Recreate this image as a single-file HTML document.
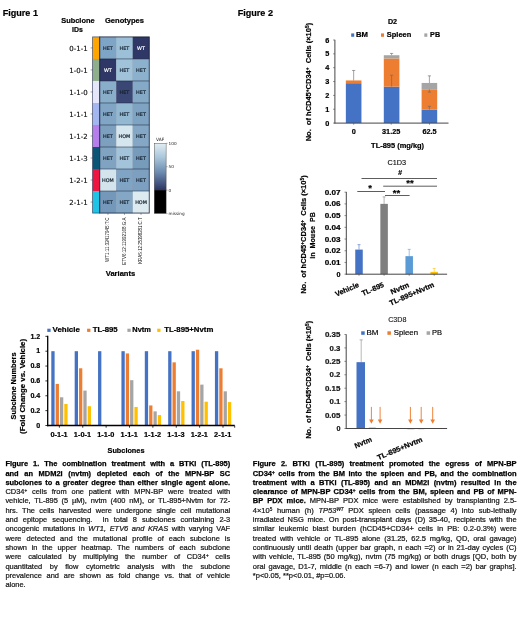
<!DOCTYPE html>
<html><head><meta charset="utf-8"><title>Figure</title>
<style>
html,body{margin:0;padding:0;background:#fff;}
body{width:520px;height:621px;position:relative;overflow:hidden;font-family:"Liberation Sans",sans-serif;color:#000;}
svg{position:absolute;left:0;top:0;}
svg text{font-family:"Liberation Sans",sans-serif;fill:#000;}
.b{font-weight:bold;stroke:#000;stroke-width:0.2px;}
.dv{font-family:"DejaVu Sans",sans-serif !important;}
.cap{position:absolute;text-align:justify;color:#111;-webkit-text-stroke:0.22px #222;}
.cap b{color:#000;-webkit-text-stroke:0.25px #000;}
.ln{text-align:justify;text-align-last:justify;white-space:nowrap;height:9.3px;}
.ln.last{text-align-last:left;}
#cap1{left:5.4px;top:459.25px;width:224.8px;font-size:7.45px;line-height:9.3px;}
#cap2{left:252.8px;top:459.25px;width:263.8px;font-size:7.5px;line-height:9.3px;}
sup{font-size:62%;line-height:0;vertical-align:baseline;position:relative;top:-0.4em;}
</style></head><body>
<svg width="520" height="621" viewBox="0 0 520 621">

<text font-size="9.0" class="b" textLength="35.3" lengthAdjust="spacingAndGlyphs" x="2.7" y="15.6" >Figure 1</text>
<text font-size="9.0" class="b" textLength="35.3" lengthAdjust="spacingAndGlyphs" x="237.7" y="15.5" >Figure 2</text>
<text font-size="7.7" class="b" text-anchor="middle" textLength="33.4" lengthAdjust="spacingAndGlyphs" x="77.9" y="22.6" >Subclone</text>
<text font-size="7.7" class="b" text-anchor="middle" textLength="10.8" lengthAdjust="spacingAndGlyphs" x="77.4" y="31.7" >IDs</text>
<text font-size="7.9" class="b" text-anchor="middle" textLength="39" lengthAdjust="spacingAndGlyphs" x="124.5" y="23.0" >Genotypes</text>
<rect x="92.6" y="36.90" width="7.10" height="22.12" fill="#FFA500"/>
<rect x="99.70" y="36.90" width="16.62" height="22.12" fill="#7FA5C6"/>
<text x="107.96" y="49.61" font-size="4.9" text-anchor="middle" class="dv" style="fill:#14202e;stroke:#14202e;stroke-width:0.18px">HET</text>
<rect x="116.22" y="36.90" width="16.62" height="22.12" fill="#9BC0D8"/>
<text x="124.48" y="49.61" font-size="4.9" text-anchor="middle" class="dv" style="fill:#14202e;stroke:#14202e;stroke-width:0.18px">HET</text>
<rect x="132.74" y="36.90" width="16.62" height="22.12" fill="#2E3766"/>
<text x="141.00" y="49.61" font-size="4.9" text-anchor="middle" class="dv" style="fill:#fff;stroke:#fff;stroke-width:0.18px">WT</text>
<text x="87.7" y="50.66" font-size="7.0" text-anchor="end" class="dv" style="fill:#111;stroke:#111;stroke-width:0.15px">0-1-1</text>
<line x1="90.6" x2="92.6" y1="47.91" y2="47.91" stroke="#444" stroke-width="0.5"/>
<rect x="92.6" y="58.92" width="7.10" height="22.12" fill="#8FAE8B"/>
<rect x="99.70" y="58.92" width="16.62" height="22.12" fill="#2E3766"/>
<text x="107.96" y="71.63" font-size="4.9" text-anchor="middle" class="dv" style="fill:#fff;stroke:#fff;stroke-width:0.18px">WT</text>
<rect x="116.22" y="58.92" width="16.62" height="22.12" fill="#A0C3DA"/>
<text x="124.48" y="71.63" font-size="4.9" text-anchor="middle" class="dv" style="fill:#14202e;stroke:#14202e;stroke-width:0.18px">HET</text>
<rect x="132.74" y="58.92" width="16.62" height="22.12" fill="#8BB1CD"/>
<text x="141.00" y="71.63" font-size="4.9" text-anchor="middle" class="dv" style="fill:#14202e;stroke:#14202e;stroke-width:0.18px">HET</text>
<text x="87.7" y="72.68" font-size="7.0" text-anchor="end" class="dv" style="fill:#111;stroke:#111;stroke-width:0.15px">1-0-1</text>
<line x1="90.6" x2="92.6" y1="69.93" y2="69.93" stroke="#444" stroke-width="0.5"/>
<rect x="92.6" y="80.94" width="7.10" height="22.12" fill="#E6E6FA"/>
<rect x="99.70" y="80.94" width="16.62" height="22.12" fill="#89AECA"/>
<text x="107.96" y="93.65" font-size="4.9" text-anchor="middle" class="dv" style="fill:#14202e;stroke:#14202e;stroke-width:0.18px">HET</text>
<rect x="116.22" y="80.94" width="16.62" height="22.12" fill="#3A4673"/>
<text x="124.48" y="93.65" font-size="4.9" text-anchor="middle" class="dv" style="fill:#14202e;stroke:#14202e;stroke-width:0.18px">HET</text>
<rect x="132.74" y="80.94" width="16.62" height="22.12" fill="#84AAC8"/>
<text x="141.00" y="93.65" font-size="4.9" text-anchor="middle" class="dv" style="fill:#14202e;stroke:#14202e;stroke-width:0.18px">HET</text>
<text x="87.7" y="94.70" font-size="7.0" text-anchor="end" class="dv" style="fill:#111;stroke:#111;stroke-width:0.15px">1-1-0</text>
<line x1="90.6" x2="92.6" y1="91.95" y2="91.95" stroke="#444" stroke-width="0.5"/>
<rect x="92.6" y="102.96" width="7.10" height="22.12" fill="#A3B6F0"/>
<rect x="99.70" y="102.96" width="16.62" height="22.12" fill="#81A5C4"/>
<text x="107.96" y="115.67" font-size="4.9" text-anchor="middle" class="dv" style="fill:#14202e;stroke:#14202e;stroke-width:0.18px">HET</text>
<rect x="116.22" y="102.96" width="16.62" height="22.12" fill="#92B8D2"/>
<text x="124.48" y="115.67" font-size="4.9" text-anchor="middle" class="dv" style="fill:#14202e;stroke:#14202e;stroke-width:0.18px">HET</text>
<rect x="132.74" y="102.96" width="16.62" height="22.12" fill="#7FA4C3"/>
<text x="141.00" y="115.67" font-size="4.9" text-anchor="middle" class="dv" style="fill:#14202e;stroke:#14202e;stroke-width:0.18px">HET</text>
<text x="87.7" y="116.72" font-size="7.0" text-anchor="end" class="dv" style="fill:#111;stroke:#111;stroke-width:0.15px">1-1-1</text>
<line x1="90.6" x2="92.6" y1="113.97" y2="113.97" stroke="#444" stroke-width="0.5"/>
<rect x="92.6" y="124.98" width="7.10" height="22.12" fill="#B57EEB"/>
<rect x="99.70" y="124.98" width="16.62" height="22.12" fill="#7DA0BE"/>
<text x="107.96" y="137.69" font-size="4.9" text-anchor="middle" class="dv" style="fill:#14202e;stroke:#14202e;stroke-width:0.18px">HET</text>
<rect x="116.22" y="124.98" width="16.62" height="22.12" fill="#D5E6EE"/>
<text x="124.48" y="137.69" font-size="4.9" text-anchor="middle" class="dv" style="fill:#14202e;stroke:#14202e;stroke-width:0.18px">HOM</text>
<rect x="132.74" y="124.98" width="16.62" height="22.12" fill="#84A7C5"/>
<text x="141.00" y="137.69" font-size="4.9" text-anchor="middle" class="dv" style="fill:#14202e;stroke:#14202e;stroke-width:0.18px">HET</text>
<text x="87.7" y="138.74" font-size="7.0" text-anchor="end" class="dv" style="fill:#111;stroke:#111;stroke-width:0.15px">1-1-2</text>
<line x1="90.6" x2="92.6" y1="135.99" y2="135.99" stroke="#444" stroke-width="0.5"/>
<rect x="92.6" y="147.00" width="7.10" height="22.12" fill="#0B5575"/>
<rect x="99.70" y="147.00" width="16.62" height="22.12" fill="#80A3C1"/>
<text x="107.96" y="159.71" font-size="4.9" text-anchor="middle" class="dv" style="fill:#14202e;stroke:#14202e;stroke-width:0.18px">HET</text>
<rect x="116.22" y="147.00" width="16.62" height="22.12" fill="#A2C3D9"/>
<text x="124.48" y="159.71" font-size="4.9" text-anchor="middle" class="dv" style="fill:#14202e;stroke:#14202e;stroke-width:0.18px">HET</text>
<rect x="132.74" y="147.00" width="16.62" height="22.12" fill="#779BBB"/>
<text x="141.00" y="159.71" font-size="4.9" text-anchor="middle" class="dv" style="fill:#14202e;stroke:#14202e;stroke-width:0.18px">HET</text>
<text x="87.7" y="160.76" font-size="7.0" text-anchor="end" class="dv" style="fill:#111;stroke:#111;stroke-width:0.15px">1-1-3</text>
<line x1="90.6" x2="92.6" y1="158.01" y2="158.01" stroke="#444" stroke-width="0.5"/>
<rect x="92.6" y="169.02" width="7.10" height="22.12" fill="#EE1540"/>
<rect x="99.70" y="169.02" width="16.62" height="22.12" fill="#D3E4EC"/>
<text x="107.96" y="181.73" font-size="4.9" text-anchor="middle" class="dv" style="fill:#14202e;stroke:#14202e;stroke-width:0.18px">HOM</text>
<rect x="116.22" y="169.02" width="16.62" height="22.12" fill="#80A4C3"/>
<text x="124.48" y="181.73" font-size="4.9" text-anchor="middle" class="dv" style="fill:#14202e;stroke:#14202e;stroke-width:0.18px">HET</text>
<rect x="132.74" y="169.02" width="16.62" height="22.12" fill="#7DA0C0"/>
<text x="141.00" y="181.73" font-size="4.9" text-anchor="middle" class="dv" style="fill:#14202e;stroke:#14202e;stroke-width:0.18px">HET</text>
<text x="87.7" y="182.78" font-size="7.0" text-anchor="end" class="dv" style="fill:#111;stroke:#111;stroke-width:0.15px">1-2-1</text>
<line x1="90.6" x2="92.6" y1="180.03" y2="180.03" stroke="#444" stroke-width="0.5"/>
<rect x="92.6" y="191.04" width="7.10" height="22.12" fill="#1EC3E6"/>
<rect x="99.70" y="191.04" width="16.62" height="22.12" fill="#7498B9"/>
<text x="107.96" y="203.75" font-size="4.9" text-anchor="middle" class="dv" style="fill:#14202e;stroke:#14202e;stroke-width:0.18px">HET</text>
<rect x="116.22" y="191.04" width="16.62" height="22.12" fill="#84A7C5"/>
<text x="124.48" y="203.75" font-size="4.9" text-anchor="middle" class="dv" style="fill:#14202e;stroke:#14202e;stroke-width:0.18px">HET</text>
<rect x="132.74" y="191.04" width="16.62" height="22.12" fill="#DDEAF0"/>
<text x="141.00" y="203.75" font-size="4.9" text-anchor="middle" class="dv" style="fill:#14202e;stroke:#14202e;stroke-width:0.18px">HOM</text>
<text x="87.7" y="204.80" font-size="7.0" text-anchor="end" class="dv" style="fill:#111;stroke:#111;stroke-width:0.15px">2-1-1</text>
<line x1="90.6" x2="92.6" y1="202.05" y2="202.05" stroke="#444" stroke-width="0.5"/>
<line x1="99.7" x2="149.26" y1="58.92" y2="58.92" stroke="#141c34" stroke-width="0.6" opacity="0.85"/>
<line x1="99.7" x2="149.26" y1="80.94" y2="80.94" stroke="#141c34" stroke-width="0.6" opacity="0.85"/>
<line x1="99.7" x2="149.26" y1="102.96" y2="102.96" stroke="#141c34" stroke-width="0.6" opacity="0.85"/>
<line x1="99.7" x2="149.26" y1="124.98" y2="124.98" stroke="#141c34" stroke-width="0.6" opacity="0.85"/>
<line x1="99.7" x2="149.26" y1="147.00" y2="147.00" stroke="#141c34" stroke-width="0.6" opacity="0.85"/>
<line x1="99.7" x2="149.26" y1="169.02" y2="169.02" stroke="#141c34" stroke-width="0.6" opacity="0.85"/>
<line x1="99.7" x2="149.26" y1="191.04" y2="191.04" stroke="#141c34" stroke-width="0.6" opacity="0.85"/>
<line x1="116.22" x2="116.22" y1="36.9" y2="213.06" stroke="#141c34" stroke-width="0.4" opacity="0.3"/>
<line x1="132.74" x2="132.74" y1="36.9" y2="213.06" stroke="#141c34" stroke-width="0.4" opacity="0.3"/>
<rect x="99.7" y="36.9" width="49.56" height="176.16" fill="none" stroke="#141c34" stroke-width="0.9" opacity="0.85"/>
<rect x="92.6" y="36.9" width="7.10" height="176.16" fill="none" stroke="#2a3350" stroke-width="0.8" opacity="0.75"/>
<line x1="107.96" x2="107.96" y1="213.06" y2="214.86" stroke="#444" stroke-width="0.5"/>
<text transform="translate(109.2,217.46) rotate(-90)" font-size="5.6" text-anchor="end" textLength="44.5" lengthAdjust="spacingAndGlyphs" style="fill:#111">WT1:11:32417945:T:C</text>
<line x1="124.48" x2="124.48" y1="213.06" y2="214.86" stroke="#444" stroke-width="0.5"/>
<text transform="translate(125.7,217.46) rotate(-90)" font-size="5.6" text-anchor="end" textLength="47.4" lengthAdjust="spacingAndGlyphs" style="fill:#111">ETV6:12:11992168:G:A</text>
<line x1="141.00" x2="141.00" y1="213.06" y2="214.86" stroke="#444" stroke-width="0.5"/>
<text transform="translate(142.1,217.46) rotate(-90)" font-size="5.6" text-anchor="end" textLength="46.4" lengthAdjust="spacingAndGlyphs" style="fill:#111">KRAS:12:25398281:C:T</text>
<text font-size="7.6" class="b" text-anchor="middle" textLength="29.5" lengthAdjust="spacingAndGlyphs" x="120.5" y="276.4" >Variants</text>
<defs><linearGradient id="cb" x1="0" y1="0" x2="0" y2="1">
<stop offset="0" stop-color="#E2EEF3"/><stop offset="0.3" stop-color="#A9C6DA"/><stop offset="0.6" stop-color="#6F8FB3"/><stop offset="1" stop-color="#2B3462"/></linearGradient></defs>
<rect x="154.3" y="143.3" width="11.8" height="47" fill="url(#cb)"/>
<rect x="154.3" y="190.1" width="11.8" height="23.3" fill="#000"/>
<rect x="154.3" y="143.3" width="11.8" height="70.1" fill="none" stroke="#333" stroke-width="0.4"/>
<text x="160.2" y="141.2" font-size="4.4" text-anchor="middle" class="dv" style="fill:#222">VAF</text>
<line x1="166.1" x2="167.6" y1="143.3" y2="143.3" stroke="#444" stroke-width="0.4"/>
<text x="168.6" y="144.8" font-size="4.2" class="dv" style="fill:#222">100</text>
<line x1="166.1" x2="167.6" y1="166.7" y2="166.7" stroke="#444" stroke-width="0.4"/>
<text x="168.6" y="168.2" font-size="4.2" class="dv" style="fill:#222">50</text>
<line x1="166.1" x2="167.6" y1="190.1" y2="190.1" stroke="#444" stroke-width="0.4"/>
<text x="168.6" y="191.6" font-size="4.2" class="dv" style="fill:#222">0</text>
<line x1="166.1" x2="167.6" y1="213.6" y2="213.6" stroke="#444" stroke-width="0.4"/>
<text x="168.6" y="215.1" font-size="4.2" class="dv" style="fill:#222">missing</text>
<rect x="51.30" y="351.20" width="3.3" height="74.30" fill="#4472C4"/>
<rect x="55.63" y="383.89" width="3.3" height="41.61" fill="#ED7D31"/>
<rect x="59.96" y="397.27" width="3.3" height="28.23" fill="#A5A5A5"/>
<rect x="64.29" y="403.95" width="3.3" height="21.55" fill="#FFC000"/>
<text font-size="7.2" class="b" text-anchor="middle" textLength="17.2" lengthAdjust="spacingAndGlyphs" x="59.09" y="437.4" >0-1-1</text>
<line x1="59.39" x2="59.39" y1="425.5" y2="427.7" stroke="#000" stroke-width="0.8"/>
<rect x="74.68" y="351.20" width="3.3" height="74.30" fill="#4472C4"/>
<rect x="79.01" y="368.29" width="3.3" height="57.21" fill="#ED7D31"/>
<rect x="83.34" y="390.58" width="3.3" height="34.92" fill="#A5A5A5"/>
<rect x="87.67" y="406.18" width="3.3" height="19.32" fill="#FFC000"/>
<text font-size="7.2" class="b" text-anchor="middle" textLength="17.2" lengthAdjust="spacingAndGlyphs" x="82.46" y="437.4" >1-0-1</text>
<line x1="82.76" x2="82.76" y1="425.5" y2="427.7" stroke="#000" stroke-width="0.8"/>
<rect x="98.05" y="351.20" width="3.3" height="74.30" fill="#4472C4"/>
<text font-size="7.2" class="b" text-anchor="middle" textLength="17.2" lengthAdjust="spacingAndGlyphs" x="105.84" y="437.4" >1-1-0</text>
<line x1="106.14" x2="106.14" y1="425.5" y2="427.7" stroke="#000" stroke-width="0.8"/>
<rect x="121.43" y="351.20" width="3.3" height="74.30" fill="#4472C4"/>
<rect x="125.76" y="353.43" width="3.3" height="72.07" fill="#ED7D31"/>
<rect x="130.09" y="380.18" width="3.3" height="45.32" fill="#A5A5A5"/>
<rect x="134.42" y="406.93" width="3.3" height="18.57" fill="#FFC000"/>
<text font-size="7.2" class="b" text-anchor="middle" textLength="17.2" lengthAdjust="spacingAndGlyphs" x="129.21" y="437.4" >1-1-1</text>
<line x1="129.51" x2="129.51" y1="425.5" y2="427.7" stroke="#000" stroke-width="0.8"/>
<rect x="144.80" y="351.20" width="3.3" height="74.30" fill="#4472C4"/>
<rect x="149.13" y="405.44" width="3.3" height="20.06" fill="#ED7D31"/>
<rect x="153.46" y="411.38" width="3.3" height="14.12" fill="#A5A5A5"/>
<rect x="157.79" y="415.10" width="3.3" height="10.40" fill="#FFC000"/>
<text font-size="7.2" class="b" text-anchor="middle" textLength="17.2" lengthAdjust="spacingAndGlyphs" x="152.59" y="437.4" >1-1-2</text>
<line x1="152.89" x2="152.89" y1="425.5" y2="427.7" stroke="#000" stroke-width="0.8"/>
<rect x="168.18" y="351.20" width="3.3" height="74.30" fill="#4472C4"/>
<rect x="172.51" y="362.35" width="3.3" height="63.15" fill="#ED7D31"/>
<rect x="176.84" y="391.32" width="3.3" height="34.18" fill="#A5A5A5"/>
<rect x="181.17" y="400.98" width="3.3" height="24.52" fill="#FFC000"/>
<text font-size="7.2" class="b" text-anchor="middle" textLength="17.2" lengthAdjust="spacingAndGlyphs" x="175.96" y="437.4" >1-1-3</text>
<line x1="176.26" x2="176.26" y1="425.5" y2="427.7" stroke="#000" stroke-width="0.8"/>
<rect x="191.55" y="351.20" width="3.3" height="74.30" fill="#4472C4"/>
<rect x="195.88" y="349.71" width="3.3" height="75.79" fill="#ED7D31"/>
<rect x="200.21" y="384.63" width="3.3" height="40.87" fill="#A5A5A5"/>
<rect x="204.54" y="401.72" width="3.3" height="23.78" fill="#FFC000"/>
<text font-size="7.2" class="b" text-anchor="middle" textLength="17.2" lengthAdjust="spacingAndGlyphs" x="199.34" y="437.4" >1-2-1</text>
<line x1="199.64" x2="199.64" y1="425.5" y2="427.7" stroke="#000" stroke-width="0.8"/>
<rect x="214.93" y="351.20" width="3.3" height="74.30" fill="#4472C4"/>
<rect x="219.26" y="368.29" width="3.3" height="57.21" fill="#ED7D31"/>
<rect x="223.59" y="391.32" width="3.3" height="34.18" fill="#A5A5A5"/>
<rect x="227.92" y="402.10" width="3.3" height="23.40" fill="#FFC000"/>
<text font-size="7.2" class="b" text-anchor="middle" textLength="17.2" lengthAdjust="spacingAndGlyphs" x="222.71" y="437.4" >2-1-1</text>
<line x1="223.01" x2="223.01" y1="425.5" y2="427.7" stroke="#000" stroke-width="0.8"/>
<line x1="47.7" x2="47.7" y1="335.8" y2="426.15" stroke="#000" stroke-width="1.3"/>
<line x1="47.050000000000004" x2="234.7" y1="425.5" y2="425.5" stroke="#000" stroke-width="1.3"/>
<line x1="234.7" x2="234.7" y1="425.5" y2="427.7" stroke="#000" stroke-width="0.8"/>
<line x1="45.400000000000006" x2="47.7" y1="425.50" y2="425.50" stroke="#000" stroke-width="0.8"/>
<text font-size="7.1" class="b" text-anchor="end" x="40.3" y="427.75" >0</text>
<line x1="45.400000000000006" x2="47.7" y1="410.64" y2="410.64" stroke="#000" stroke-width="0.8"/>
<text font-size="7.1" class="b" text-anchor="end" x="40.3" y="412.89" >0.2</text>
<line x1="45.400000000000006" x2="47.7" y1="395.78" y2="395.78" stroke="#000" stroke-width="0.8"/>
<text font-size="7.1" class="b" text-anchor="end" x="40.3" y="398.03" >0.4</text>
<line x1="45.400000000000006" x2="47.7" y1="380.92" y2="380.92" stroke="#000" stroke-width="0.8"/>
<text font-size="7.1" class="b" text-anchor="end" x="40.3" y="383.17" >0.6</text>
<line x1="45.400000000000006" x2="47.7" y1="366.06" y2="366.06" stroke="#000" stroke-width="0.8"/>
<text font-size="7.1" class="b" text-anchor="end" x="40.3" y="368.31" >0.8</text>
<line x1="45.400000000000006" x2="47.7" y1="351.20" y2="351.20" stroke="#000" stroke-width="0.8"/>
<text font-size="7.1" class="b" text-anchor="end" x="40.3" y="353.45" >1</text>
<line x1="45.400000000000006" x2="47.7" y1="336.34" y2="336.34" stroke="#000" stroke-width="0.8"/>
<text font-size="7.1" class="b" text-anchor="end" x="40.3" y="338.59" >1.2</text>
<rect x="47.3" y="328.7" width="3.3" height="3.2" fill="#4472C4"/>
<text font-size="7.0" class="b" textLength="27.3" lengthAdjust="spacingAndGlyphs" x="52.6" y="332.1" >Vehicle</text>
<rect x="87.1" y="328.7" width="3.3" height="3.2" fill="#ED7D31"/>
<text font-size="7.0" class="b" textLength="25" lengthAdjust="spacingAndGlyphs" x="92.7" y="332.1" >TL-895</text>
<rect x="127.4" y="328.7" width="3.3" height="3.2" fill="#A5A5A5"/>
<text font-size="7.0" class="b" textLength="18.5" lengthAdjust="spacingAndGlyphs" x="132.3" y="332.1" >Nvtm</text>
<rect x="157.2" y="328.7" width="3.3" height="3.2" fill="#FFC000"/>
<text font-size="7.0" class="b" textLength="49" lengthAdjust="spacingAndGlyphs" x="164.3" y="332.1" >TL-895+Nvtm</text>
<text font-size="7.1" class="b" text-anchor="middle" textLength="67" lengthAdjust="spacingAndGlyphs" transform="translate(15.6,386) rotate(-90)" >Subclone Numbers</text>
<text font-size="7.1" class="b" text-anchor="middle" textLength="95" lengthAdjust="spacingAndGlyphs" transform="translate(24.6,386.4) rotate(-90)" >(Fold Change vs. Vehicle)</text>
<text font-size="7.3" class="b" text-anchor="middle" x="126" y="452.6" >Subclones</text>
<text font-size="6.8" class="b" text-anchor="middle" textLength="9.2" lengthAdjust="spacingAndGlyphs" x="392.5" y="23.5" >D2</text>
<rect x="351.2" y="33.4" width="3.0" height="3.4" fill="#4472C4"/>
<text font-size="7.1" class="b" textLength="12" lengthAdjust="spacingAndGlyphs" x="355.9" y="36.9" >BM</text>
<rect x="381" y="33.4" width="3.0" height="3.4" fill="#ED7D31"/>
<text font-size="7.1" class="b" textLength="24.5" lengthAdjust="spacingAndGlyphs" x="386.8" y="36.9" >Spleen</text>
<rect x="424.3" y="33.4" width="3.0" height="3.4" fill="#A5A5A5"/>
<text font-size="7.1" class="b" textLength="10" lengthAdjust="spacingAndGlyphs" x="430.1" y="36.9" >PB</text>
<rect x="345.85" y="83.21" width="15.6" height="39.89" fill="#4472C4"/>
<rect x="345.85" y="80.44" width="15.6" height="2.77" fill="#ED7D31"/>
<rect x="383.80" y="86.67" width="15.6" height="36.43" fill="#4472C4"/>
<rect x="383.80" y="58.42" width="15.6" height="28.25" fill="#ED7D31"/>
<rect x="383.80" y="55.23" width="15.6" height="3.19" fill="#A5A5A5"/>
<rect x="421.60" y="109.67" width="15.6" height="13.43" fill="#4472C4"/>
<rect x="421.60" y="89.31" width="15.6" height="20.36" fill="#ED7D31"/>
<rect x="421.60" y="82.94" width="15.6" height="6.37" fill="#A5A5A5"/>
<line x1="353.65" x2="353.65" y1="80.44" y2="70.47" stroke="#666" stroke-width="0.6"/>
<line x1="352.04999999999995" x2="355.25" y1="70.47" y2="70.47" stroke="#666" stroke-width="0.6"/>
<line x1="391.6" x2="391.6" y1="86.67" y2="75.18" stroke="#666" stroke-width="0.6"/>
<line x1="390.0" x2="393.20000000000005" y1="75.18" y2="75.18" stroke="#666" stroke-width="0.6"/>
<line x1="391.6" x2="391.6" y1="55.23" y2="53.43" stroke="#666" stroke-width="0.6"/>
<line x1="390.0" x2="393.20000000000005" y1="53.43" y2="53.43" stroke="#666" stroke-width="0.6"/>
<line x1="429.4" x2="429.4" y1="109.67" y2="106.34" stroke="#666" stroke-width="0.6"/>
<line x1="427.79999999999995" x2="431.0" y1="106.34" y2="106.34" stroke="#666" stroke-width="0.6"/>
<line x1="429.4" x2="429.4" y1="82.94" y2="75.87" stroke="#666" stroke-width="0.6"/>
<line x1="427.79999999999995" x2="431.0" y1="75.87" y2="75.87" stroke="#666" stroke-width="0.6"/>
<line x1="429.4" x2="429.4" y1="89.31" y2="92.08" stroke="#666" stroke-width="0.6"/>
<line x1="427.79999999999995" x2="431.0" y1="92.08" y2="92.08" stroke="#666" stroke-width="0.6"/>
<line x1="334.9" x2="334.9" y1="39.8" y2="123.5" stroke="#454545" stroke-width="1.0"/>
<line x1="334.5" x2="448.5" y1="123.1" y2="123.1" stroke="#454545" stroke-width="1.0"/>
<line x1="333.09999999999997" x2="334.9" y1="123.10" y2="123.10" stroke="#454545" stroke-width="0.6"/>
<text font-size="7.3" class="b" text-anchor="end" x="329.3" y="125.7" >0</text>
<line x1="333.09999999999997" x2="334.9" y1="109.25" y2="109.25" stroke="#454545" stroke-width="0.6"/>
<text font-size="7.3" class="b" text-anchor="end" x="329.3" y="111.85" >1</text>
<line x1="333.09999999999997" x2="334.9" y1="95.40" y2="95.40" stroke="#454545" stroke-width="0.6"/>
<text font-size="7.3" class="b" text-anchor="end" x="329.3" y="98.0" >2</text>
<line x1="333.09999999999997" x2="334.9" y1="81.55" y2="81.55" stroke="#454545" stroke-width="0.6"/>
<text font-size="7.3" class="b" text-anchor="end" x="329.3" y="84.15" >3</text>
<line x1="333.09999999999997" x2="334.9" y1="67.70" y2="67.70" stroke="#454545" stroke-width="0.6"/>
<text font-size="7.3" class="b" text-anchor="end" x="329.3" y="70.3" >4</text>
<line x1="333.09999999999997" x2="334.9" y1="53.85" y2="53.85" stroke="#454545" stroke-width="0.6"/>
<text font-size="7.3" class="b" text-anchor="end" x="329.3" y="56.45" >5</text>
<line x1="333.09999999999997" x2="334.9" y1="40.00" y2="40.00" stroke="#454545" stroke-width="0.6"/>
<text font-size="7.3" class="b" text-anchor="end" x="329.3" y="42.6" >6</text>
<line x1="353.7" x2="353.7" y1="123.1" y2="124.69999999999999" stroke="#454545" stroke-width="0.6"/>
<text font-size="7.3" class="b" text-anchor="middle" x="353.7" y="134.4" >0</text>
<line x1="391.2" x2="391.2" y1="123.1" y2="124.69999999999999" stroke="#454545" stroke-width="0.6"/>
<text font-size="7.3" class="b" text-anchor="middle" textLength="18.3" lengthAdjust="spacingAndGlyphs" x="391.2" y="134.4" >31.25</text>
<line x1="429.5" x2="429.5" y1="123.1" y2="124.69999999999999" stroke="#454545" stroke-width="0.6"/>
<text font-size="7.3" class="b" text-anchor="middle" textLength="14.2" lengthAdjust="spacingAndGlyphs" x="429.5" y="134.4" >62.5</text>
<text font-size="7.2" class="b" text-anchor="middle" textLength="53" lengthAdjust="spacingAndGlyphs" x="397.6" y="147.8" >TL-895 (mg/kg)</text>
<text font-size="7.2" class="b" text-anchor="middle" textLength="118.5" lengthAdjust="spacingAndGlyphs" transform="translate(311.4,82.1) rotate(-90)" >No.&#160;&#160;of hCD45<tspan font-size="4.6" dy="-2.6">+</tspan><tspan dy="2.6">CD34</tspan><tspan font-size="4.6" dy="-2.6">+</tspan><tspan dy="2.6">&#160;&#160;Cells (×10</tspan><tspan font-size="4.6" dy="-2.6">5</tspan><tspan dy="2.6">)</tspan></text>
<text font-size="7.3" text-anchor="middle" textLength="18.7" lengthAdjust="spacingAndGlyphs" x="396.8" y="165.1" stroke="#222" stroke-width="0.12">C1D3</text>
<rect x="355.25" y="249.59" width="7.5" height="24.61" fill="#4472C4"/>
<line x1="359" x2="359" y1="249.59" y2="244.67" stroke="#4472C4" stroke-width="0.6"/>
<line x1="357.5" x2="360.5" y1="244.67" y2="244.67" stroke="#4472C4" stroke-width="0.6"/>
<line x1="359" x2="359" y1="274.2" y2="275.8" stroke="#454545" stroke-width="0.6"/>
<rect x="380.35" y="203.88" width="7.5" height="70.32" fill="#7F7F7F"/>
<line x1="384.1" x2="384.1" y1="203.88" y2="196.85" stroke="#7F7F7F" stroke-width="0.6"/>
<line x1="382.6" x2="385.6" y1="196.85" y2="196.85" stroke="#7F7F7F" stroke-width="0.6"/>
<line x1="384.1" x2="384.1" y1="274.2" y2="275.8" stroke="#454545" stroke-width="0.6"/>
<rect x="405.45" y="256.15" width="7.5" height="18.05" fill="#5B9BD5"/>
<line x1="409.2" x2="409.2" y1="256.15" y2="249.35" stroke="#5B9BD5" stroke-width="0.6"/>
<line x1="407.7" x2="410.7" y1="249.35" y2="249.35" stroke="#5B9BD5" stroke-width="0.6"/>
<line x1="409.2" x2="409.2" y1="274.2" y2="275.8" stroke="#454545" stroke-width="0.6"/>
<rect x="430.45" y="271.86" width="7.5" height="2.34" fill="#FFC000"/>
<line x1="434.2" x2="434.2" y1="271.86" y2="268.46" stroke="#FFC000" stroke-width="0.6"/>
<line x1="432.7" x2="435.7" y1="268.46" y2="268.46" stroke="#FFC000" stroke-width="0.6"/>
<line x1="434.2" x2="434.2" y1="274.2" y2="275.8" stroke="#454545" stroke-width="0.6"/>
<line x1="346.3" x2="346.3" y1="191.9" y2="274.59999999999997" stroke="#454545" stroke-width="1.0"/>
<line x1="345.90000000000003" x2="447.1" y1="274.2" y2="274.2" stroke="#454545" stroke-width="1.0"/>
<line x1="344.5" x2="346.3" y1="274.20" y2="274.20" stroke="#454545" stroke-width="0.6"/>
<text font-size="7.2" class="b" text-anchor="end" x="340.5" y="276.8" >0</text>
<line x1="344.5" x2="346.3" y1="262.48" y2="262.48" stroke="#454545" stroke-width="0.6"/>
<text font-size="7.2" class="b" text-anchor="end" textLength="15.8" lengthAdjust="spacingAndGlyphs" x="340.5" y="265.08" >0.01</text>
<line x1="344.5" x2="346.3" y1="250.76" y2="250.76" stroke="#454545" stroke-width="0.6"/>
<text font-size="7.2" class="b" text-anchor="end" textLength="15.8" lengthAdjust="spacingAndGlyphs" x="340.5" y="253.36" >0.02</text>
<line x1="344.5" x2="346.3" y1="239.04" y2="239.04" stroke="#454545" stroke-width="0.6"/>
<text font-size="7.2" class="b" text-anchor="end" textLength="15.8" lengthAdjust="spacingAndGlyphs" x="340.5" y="241.64" >0.03</text>
<line x1="344.5" x2="346.3" y1="227.32" y2="227.32" stroke="#454545" stroke-width="0.6"/>
<text font-size="7.2" class="b" text-anchor="end" textLength="15.8" lengthAdjust="spacingAndGlyphs" x="340.5" y="229.92" >0.04</text>
<line x1="344.5" x2="346.3" y1="215.60" y2="215.60" stroke="#454545" stroke-width="0.6"/>
<text font-size="7.2" class="b" text-anchor="end" textLength="15.8" lengthAdjust="spacingAndGlyphs" x="340.5" y="218.2" >0.05</text>
<line x1="344.5" x2="346.3" y1="203.88" y2="203.88" stroke="#454545" stroke-width="0.6"/>
<text font-size="7.2" class="b" text-anchor="end" textLength="15.8" lengthAdjust="spacingAndGlyphs" x="340.5" y="206.48" >0.06</text>
<line x1="344.5" x2="346.3" y1="192.16" y2="192.16" stroke="#454545" stroke-width="0.6"/>
<text font-size="7.2" class="b" text-anchor="end" textLength="15.8" lengthAdjust="spacingAndGlyphs" x="340.5" y="194.76" >0.07</text>
<line x1="361.5" x2="437" y1="178.5" y2="178.5" stroke="#333" stroke-width="0.8"/>
<line x1="383.2" x2="437" y1="186.2" y2="186.2" stroke="#333" stroke-width="0.8"/>
<line x1="357.3" x2="385" y1="191.5" y2="191.5" stroke="#333" stroke-width="0.8"/>
<line x1="385" x2="409.6" y1="195.5" y2="195.5" stroke="#333" stroke-width="0.8"/>
<text font-size="7.2" class="b" text-anchor="middle" x="399.9" y="174.5" font-style="italic">#</text>
<text font-size="9.5" class="b" text-anchor="middle" x="409.9" y="186.4" >**</text>
<text font-size="9.5" class="b" text-anchor="middle" x="370" y="191.4" >*</text>
<text font-size="9.5" class="b" text-anchor="middle" x="396.5" y="195.8" >**</text>
<text font-size="7.3" class="b" text-anchor="end" transform="translate(359.5,286.6) rotate(-23.5)" >Vehicle</text>
<text font-size="7.3" class="b" text-anchor="end" transform="translate(384.6,286.6) rotate(-23.5)" >TL-895</text>
<text font-size="7.3" class="b" text-anchor="end" textLength="19.6" lengthAdjust="spacingAndGlyphs" transform="translate(409.7,286.6) rotate(-23.5)" >Nvtm</text>
<text font-size="7.3" class="b" text-anchor="end" textLength="47.8" lengthAdjust="spacingAndGlyphs" transform="translate(434.7,286.6) rotate(-23.5)" >TL-895+Nvtm</text>
<text font-size="7.2" class="b" text-anchor="middle" textLength="118.5" lengthAdjust="spacingAndGlyphs" transform="translate(306.4,234.6) rotate(-90)" >No.&#160;&#160;of hCD45<tspan font-size="4.6" dy="-2.6">+</tspan><tspan dy="2.6">CD34</tspan><tspan font-size="4.6" dy="-2.6">+</tspan><tspan dy="2.6">&#160;&#160;Cells (×10</tspan><tspan font-size="4.6" dy="-2.6">5</tspan><tspan dy="2.6">)</tspan></text>
<text font-size="7.2" class="b" text-anchor="middle" textLength="46.5" lengthAdjust="spacingAndGlyphs" transform="translate(315.4,235.4) rotate(-90)" >in&#160;&#160;Mouse&#160;&#160;PB</text>
<text font-size="7.2" text-anchor="middle" textLength="18.3" lengthAdjust="spacingAndGlyphs" style="fill:#111" x="397.3" y="322.4" stroke="#222" stroke-width="0.12">C3D8</text>
<rect x="361.2" y="331.3" width="3.5" height="3.5" fill="#4472C4"/>
<text font-size="7.4" textLength="12" lengthAdjust="spacingAndGlyphs" x="366.5" y="335.1" stroke="#000" stroke-width="0.15">BM</text>
<rect x="387.4" y="331.3" width="3.5" height="3.5" fill="#ED7D31"/>
<text font-size="7.4" textLength="24.2" lengthAdjust="spacingAndGlyphs" x="393.8" y="335.1" stroke="#000" stroke-width="0.15">Spleen</text>
<rect x="426.6" y="331.3" width="3.5" height="3.5" fill="#A5A5A5"/>
<text font-size="7.4" textLength="10" lengthAdjust="spacingAndGlyphs" x="431.9" y="335.1" stroke="#000" stroke-width="0.15">PB</text>
<rect x="356.5" y="362.16" width="8.5" height="66.34" fill="#4472C4"/>
<line x1="361.2" x2="361.2" y1="362.16" y2="339.86" stroke="#888" stroke-width="0.6"/>
<line x1="359.59999999999997" x2="362.8" y1="339.86" y2="339.86" stroke="#888" stroke-width="0.6"/>
<rect x="368.8" y="427.60" width="7" height="0.9" fill="#ED7D31"/>
<rect x="407.3" y="428.40" width="7" height="0.9" fill="#4472C4" opacity="0.6"/>
<rect x="418" y="428.40" width="6.3" height="0.9" fill="#ED7D31" opacity="0.6"/>
<line x1="346.2" x2="346.2" y1="334.3" y2="428.9" stroke="#454545" stroke-width="1.0"/>
<line x1="345.8" x2="447.1" y1="428.5" y2="428.5" stroke="#454545" stroke-width="1.0"/>
<line x1="344.4" x2="346.2" y1="428.50" y2="428.50" stroke="#454545" stroke-width="0.6"/>
<text font-size="7.2" class="b" text-anchor="end" style="fill:#222" x="340.4" y="431.1" >0</text>
<line x1="344.4" x2="346.2" y1="415.07" y2="415.07" stroke="#454545" stroke-width="0.6"/>
<text font-size="7.2" class="b" text-anchor="end" textLength="15.5" lengthAdjust="spacingAndGlyphs" style="fill:#222" x="340.4" y="417.67" >0.05</text>
<line x1="344.4" x2="346.2" y1="401.64" y2="401.64" stroke="#454545" stroke-width="0.6"/>
<text font-size="7.2" class="b" text-anchor="end" textLength="10.8" lengthAdjust="spacingAndGlyphs" style="fill:#222" x="340.4" y="404.24" >0.1</text>
<line x1="344.4" x2="346.2" y1="388.21" y2="388.21" stroke="#454545" stroke-width="0.6"/>
<text font-size="7.2" class="b" text-anchor="end" textLength="15.5" lengthAdjust="spacingAndGlyphs" style="fill:#222" x="340.4" y="390.81" >0.15</text>
<line x1="344.4" x2="346.2" y1="374.78" y2="374.78" stroke="#454545" stroke-width="0.6"/>
<text font-size="7.2" class="b" text-anchor="end" textLength="10.8" lengthAdjust="spacingAndGlyphs" style="fill:#222" x="340.4" y="377.38" >0.2</text>
<line x1="344.4" x2="346.2" y1="361.35" y2="361.35" stroke="#454545" stroke-width="0.6"/>
<text font-size="7.2" class="b" text-anchor="end" textLength="15.5" lengthAdjust="spacingAndGlyphs" style="fill:#222" x="340.4" y="363.95" >0.25</text>
<line x1="344.4" x2="346.2" y1="347.92" y2="347.92" stroke="#454545" stroke-width="0.6"/>
<text font-size="7.2" class="b" text-anchor="end" textLength="10.8" lengthAdjust="spacingAndGlyphs" style="fill:#222" x="340.4" y="350.52" >0.3</text>
<line x1="344.4" x2="346.2" y1="334.49" y2="334.49" stroke="#454545" stroke-width="0.6"/>
<text font-size="7.2" class="b" text-anchor="end" textLength="15.5" lengthAdjust="spacingAndGlyphs" style="fill:#222" x="340.4" y="337.09" >0.35</text>
<line x1="371.4" x2="371.4" y1="406.9" y2="420.5" stroke="#ED7D31" stroke-width="0.95"/>
<path d="M369.09999999999997 419.5 L371.4 423.7 L373.7 419.5 Z" fill="#ED7D31"/>
<line x1="380.1" x2="380.1" y1="406.9" y2="420.5" stroke="#ED7D31" stroke-width="0.95"/>
<path d="M377.8 419.5 L380.1 423.7 L382.40000000000003 419.5 Z" fill="#ED7D31"/>
<line x1="410.4" x2="410.4" y1="406.9" y2="420.5" stroke="#ED7D31" stroke-width="0.95"/>
<path d="M408.09999999999997 419.5 L410.4 423.7 L412.7 419.5 Z" fill="#ED7D31"/>
<line x1="421.2" x2="421.2" y1="406.9" y2="420.5" stroke="#ED7D31" stroke-width="0.95"/>
<path d="M418.9 419.5 L421.2 423.7 L423.5 419.5 Z" fill="#ED7D31"/>
<line x1="432.7" x2="432.7" y1="406.9" y2="420.5" stroke="#ED7D31" stroke-width="0.95"/>
<path d="M430.4 419.5 L432.7 423.7 L435.0 419.5 Z" fill="#ED7D31"/>
<text font-size="7.3" class="b" text-anchor="end" transform="translate(372.5,441.3) rotate(-23)" >Nvtm</text>
<text font-size="7.3" class="b" text-anchor="end" textLength="48.3" lengthAdjust="spacingAndGlyphs" transform="translate(423.0,441.3) rotate(-23)" >TL-895+Nvtm</text>
<text font-size="7.2" class="b" text-anchor="middle" textLength="118" lengthAdjust="spacingAndGlyphs" transform="translate(311.2,379.8) rotate(-90)" >No.&#160;&#160;of hCD45<tspan font-size="4.6" dy="-2.6">+</tspan><tspan dy="2.6">CD34</tspan><tspan font-size="4.6" dy="-2.6">+</tspan><tspan dy="2.6">&#160;&#160;Cells (×10</tspan><tspan font-size="4.6" dy="-2.6">5</tspan><tspan dy="2.6">)</tspan></text>
</svg>
<div class="cap" id="cap1">
<div class="ln"><b>Figure 1. The combination treatment with a BTKi (TL-895)</b></div>
<div class="ln"><b>and an MDM2i (nvtm) depleted each of the MPN-BP SC</b></div>
<div class="ln"><b>subclones to a greater degree than either single agent alone.</b></div>
<div class="ln">CD34<sup>+</sup> cells from one patient with MPN-BP were treated with</div>
<div class="ln">vehicle, TL-895 (5 µM), nvtm (400 nM), or TL-895+Nvtm for 72-</div>
<div class="ln">hrs. The cells harvested were undergone single cell mutational</div>
<div class="ln">and epitope sequencing. &nbsp;In total 8 subclones containing 2-3</div>
<div class="ln">oncogenic mutations in <i>WT1, ETV6 and KRAS</i> with varying VAF</div>
<div class="ln">were detected and the mutational profile of each subclone is</div>
<div class="ln">shown in the upper heatmap. The numbers of each subclone</div>
<div class="ln">were calculated by multiplying the number of CD34<sup>+</sup> cells</div>
<div class="ln">quantitated by flow cytometric analysis with the subclone</div>
<div class="ln">prevalence and are shown as fold change vs. that of vehicle</div>
<div class="ln last">alone.</div>
</div>
<div class="cap" id="cap2">
<div class="ln"><b>Figure 2. BTKi (TL-895) treatment promoted the egress of MPN-BP</b></div>
<div class="ln"><b>CD34<sup>+</sup> cells from the BM into the spleen and PB, and the combination</b></div>
<div class="ln"><b>treatment with a BTKi (TL-895) and an MDM2i (nvtm) resulted in the</b></div>
<div class="ln"><b>clearance of MPN-BP CD34<sup>+</sup> cells from the BM, spleen and PB of MPN-</b></div>
<div class="ln"><b>BP PDX mice.</b> MPN-BP PDX mice were established by transplanting 2.5-</div>
<div class="ln">4×10<sup>5</sup> human (h) <i>TP53<sup>WT</sup></i> PDX spleen cells (passage 4) into sub-lethally</div>
<div class="ln">irradiated NSG mice. On post-transplant days (D) 35-40, recipients with the</div>
<div class="ln">similar leukemic blast burden (hCD45+CD34+ cells in PB: 0.2-0.3%) were</div>
<div class="ln">treated with vehicle or TL-895 alone (31.25, 62.5 mg/kg, QD, oral gavage)</div>
<div class="ln">continuously until death (upper bar graph, n each =2) or in 21-day cycles (C)</div>
<div class="ln">with vehicle, TL-895 (50 mg/kg), nvtm (75 mg/kg) or both drugs [QD, both by</div>
<div class="ln">oral gavage, D1-7, middle (n each =6-7) and lower (n each =2) bar graphs].</div>
<div class="ln last">*p&lt;0.05, **p&lt;0.01, #p=0.06.</div>
</div>
</body></html>
